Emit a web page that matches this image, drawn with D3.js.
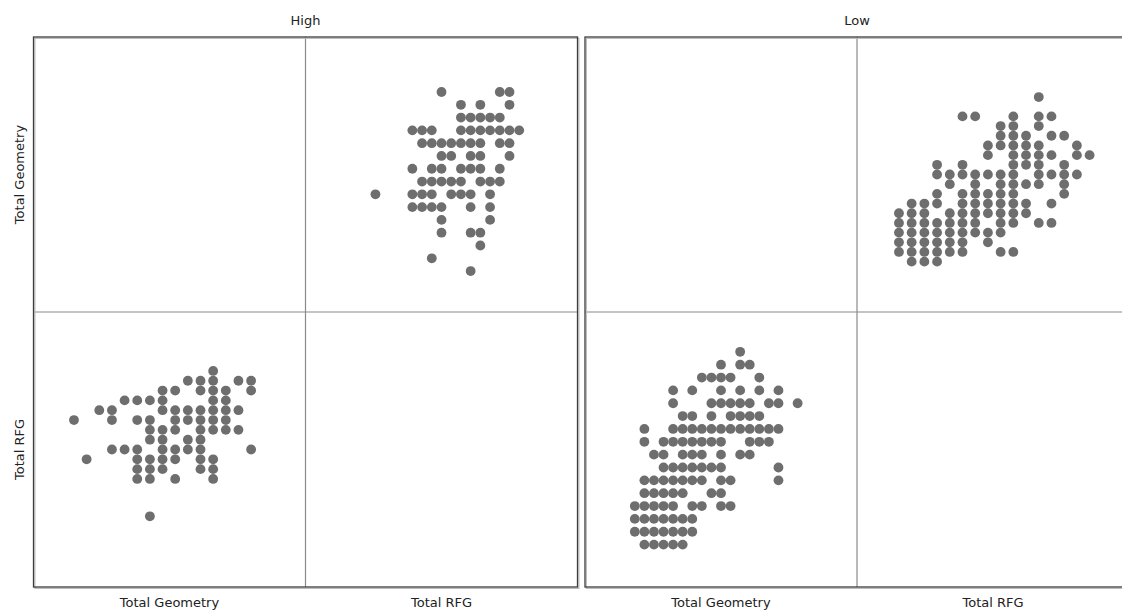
<!DOCTYPE html>
<html>
<head>
<meta charset="utf-8">
<script src="https://cdn.jsdelivr.net/npm/d3@7"></script>
<style>
  body { margin: 0; background: #fff; }
  text { font-family: "DejaVu Sans", sans-serif; font-size: 13px; fill: #222; }
</style>
</head>
<body>
<div id="chart"></div>
<script>
// variables of the matrix, in row / column order
var variables = ["Total Geometry", "Total RFG"];
var groups = ["High", "Low"];

// [Total Geometry, Total RFG]
var highPairs = [
  [20,27],[20,33],[20,34],
  [19,29],[19,31],[19,34],
  [18,29],[18,30],[18,31],[18,32],[18,33],
  [17,24],[17,25],[17,26],[17,29],[17,30],[17,31],[17,32],[17,33],[17,34],[17,35],
  [16,25],[16,26],[16,27],[16,28],[16,29],[16,30],[16,31],[16,33],[16,34],
  [15,27],[15,28],[15,30],[15,31],[15,34],
  [14,24],[14,26],[14,27],[14,29],[14,30],[14,31],[14,33],
  [13,25],[13,26],[13,27],[13,28],[13,29],[13,31],[13,32],[13,33],
  [12,20.2],[12,24],[12,25],[12,26],[12,28],[12,29],[12,30],[12,32],
  [11,24],[11,25],[11,26],[11,27],[11,30],[11,32],
  [10,27],[10,32],
  [9,27],[9,30],[9,31],
  [8,31],
  [7,26],
  [6,30]
];

var lowPairs = [
  [17,35],
  [15,34],[17,34],[18,34],
  [13,33],[14,33],[15,33],[16,33],[19,33],
  [10,32],[12,32],[15,32],[17,32],[19,32],[21,32],
  [10,31],[14,31],[15,31],[16,31],[17,31],[18,31],[20,31],[21,31],[23,31],
  [11,30],[12,30],[14,30],[16,30],[17,30],[18,30],[19,30],
  [7,29],[10,29],[11,29],[12,29],[13,29],[14,29],[15,29],[16,29],[17,29],[18,29],[19,29],[20,29],[21,29],
  [7,28],[9,28],[10,28],[11,28],[12,28],[13,28],[14,28],[15,28],[18,28],[19,28],[20,28],
  [8,27],[9,27],[11,27],[12,27],[13,27],[15,27],[17,27],[18,27],
  [9,26],[10,26],[11,26],[12,26],[13,26],[14,26],[15,26],[21,26],
  [7,25],[8,25],[9,25],[10,25],[11,25],[12,25],[13,25],[15,25],[16,25],[21,25],
  [7,24],[8,24],[9,24],[10,24],[11,24],[14,24],[15,24],
  [6,23],[7,23],[8,23],[9,23],[10,23],[12,23],[13,23],[15,23],[16,23],
  [6,22],[7,22],[8,22],[9,22],[10,22],[11,22],[12,22],
  [6,21],[7,21],[8,21],[9,21],[10,21],[11,21],[12,21],
  [7,20],[8,20],[9,20],[10,20],[11,20]
];

// axis ranges of each panel (no ticks are shown)
var highDomains = [[2.8, 24.3], [13, 41]];
var lowDomains = [[0.8, 29.2], [16.7, 38.1]];

var width = 1122, height = 615;
var panelW = 544, panelH = 550;
var panelTop = 37;
var panelX = [33.5, 585];
var cellW = panelW / 2, cellH = panelH / 2;

var svg = d3.select("#chart").append("svg")
  .attr("width", width)
  .attr("height", height);

var data = [highPairs, lowPairs];
var domains = [highDomains, lowDomains];

groups.forEach(function (name, p) {
  var x0 = panelX[p];
  var g = svg.append("g");

  // panel title
  g.append("text")
    .attr("x", x0 + panelW / 2)
    .attr("y", 25)
    .attr("text-anchor", "middle")
    .text(name);

  // scales for each variable, per column (x) and per row (y)
  var xScales = variables.map(function (v, j) {
    return d3.scaleLinear().domain(domains[p][j]).range([x0 + j * cellW, x0 + (j + 1) * cellW]);
  });
  var yScales = variables.map(function (v, i) {
    return d3.scaleLinear().domain(domains[p][i]).range([panelTop + (i + 1) * cellH, panelTop + i * cellH]);
  });

  // off-diagonal cells
  [[0, 1], [1, 0]].forEach(function (c) {
    var i = c[0], j = c[1];
    var xs = xScales[j], ys = yScales[i];
    g.append("g").selectAll("circle")
      .data(data[p])
      .enter().append("circle")
      .attr("cx", function (d) { return xs(d[j]); })
      .attr("cy", function (d) { return ys(d[i]); })
      .attr("r", 4.9)
      .attr("fill", "#6e6e6e");
  });

  // inner dividers
  g.append("line")
    .attr("x1", x0 + cellW).attr("x2", x0 + cellW)
    .attr("y1", panelTop).attr("y2", panelTop + panelH)
    .attr("stroke", "#8a8a8a").attr("stroke-width", 1.2);
  g.append("line")
    .attr("x1", x0).attr("x2", x0 + panelW)
    .attr("y1", panelTop + cellH).attr("y2", panelTop + cellH)
    .attr("stroke", "#8a8a8a").attr("stroke-width", 1.2);

  // frame with a light shadow
  g.append("rect")
    .attr("x", x0 + 1.4).attr("y", panelTop + 1.4)
    .attr("width", panelW).attr("height", panelH)
    .attr("fill", "none").attr("stroke", "#bdbdbd").attr("stroke-width", 1.2);
  g.append("rect")
    .attr("x", x0).attr("y", panelTop)
    .attr("width", panelW).attr("height", panelH)
    .attr("fill", "none").attr("stroke", "#3c3c3c").attr("stroke-width", 1.3);

  // bottom labels
  variables.forEach(function (v, j) {
    g.append("text")
      .attr("x", x0 + (j + 0.5) * cellW)
      .attr("y", 607)
      .attr("text-anchor", "middle")
      .text(v);
  });
});

// row labels on the left
variables.forEach(function (v, i) {
  svg.append("text")
    .attr("transform", "translate(24," + (panelTop + (i + 0.5) * cellH) + ") rotate(-90)")
    .attr("text-anchor", "middle")
    .text(v);
});
</script>
</body>
</html>
